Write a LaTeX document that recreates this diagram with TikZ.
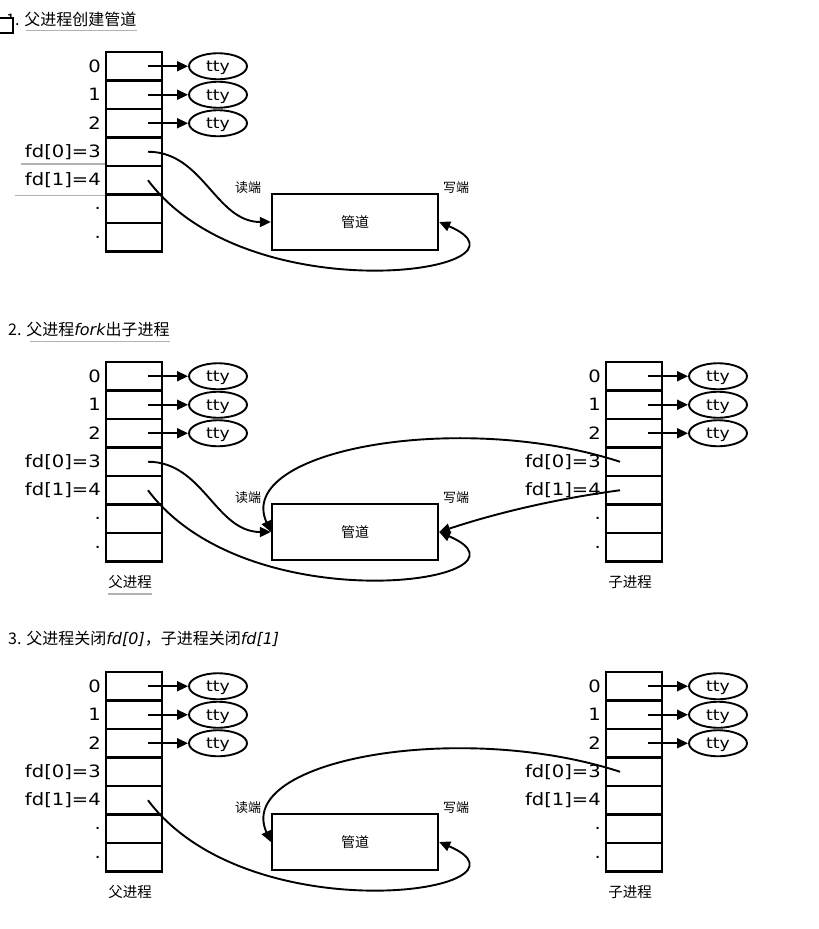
\documentclass[tikz,border=0pt]{standalone}
\usepackage{fontspec}
\setmainfont{DejaVu Sans}
\newfontfamily\cjk{Noto Sans CJK SC}
\newfontfamily\lblfont[FakeStretch=1.15]{DejaVu Sans}
\usetikzlibrary{arrows.meta,shapes.geometric}

\begin{document}
\begin{tikzpicture}[x=1pt,y=-1pt,
    cell/.style={draw,line width=2.3pt,minimum width=56pt,minimum height=28.5pt,inner sep=0pt},
    fdlabel/.style={anchor=east,inner sep=0pt,font=\lblfont\fontsize{17}{17}\selectfont},
    tty/.style={draw,ellipse,line width=1.9pt,minimum width=58pt,minimum height=26pt,inner sep=0pt,text depth=0pt,font=\lblfont\fontsize{15}{15}\selectfont},
    pipe/.style={draw,line width=2.3pt,minimum width=166pt,minimum height=56pt,font=\cjk\fontsize{14}{14}\selectfont},
    conn/.style={line width=1.9pt,-{Triangle[length=11pt,width=10pt]}},
    endlabel/.style={inner sep=0pt,font=\cjk\fontsize{13}{13}\selectfont},
    proclabel/.style={inner sep=0pt,font=\cjk\fontsize{14.5}{14.5}\selectfont},
    title/.style={anchor=west,inner sep=0pt,font=\cjk\fontsize{16}{16}\selectfont},
    uline/.style={gray!60,line width=1.4pt}]
    \useasboundingbox (0,0) rectangle (819,929);

    % 三个步骤的标题
    \node[title] (tA) at (6,19) {1. 父进程创建管道};
    \node[title] (tB) at (8,329) {2. 父进程{\rmfamily\itshape fork}出子进程};
    \node[title] (tC) at (8,639) {3. 父进程关闭{\rmfamily\itshape fd[0]}，子进程关闭{\rmfamily\itshape fd[1]}};
    \draw[line width=1.2pt,fill=white] (-1,18) rectangle (13,33);
    \draw[uline] ([xshift=20pt,yshift=-4pt]tA.south west) -- ([yshift=-4pt]tA.south east);
    \draw[uline] ([xshift=22pt,yshift=-5pt]tB.south west) -- ([yshift=-5pt]tB.south east);

    % 文件描述符表
    \foreach \pre/\cx/\top in {a/134/52, b/134/362, c/634/362, d/134/672, e/634/672} {
        \foreach \i/\l in {0/0,1/1,2/2,3/{fd[0]=3},4/{fd[1]=4},5/.,6/.} {
            \node[cell] (\pre\i) at (\cx,\top+14.25+28.5*\i) {};
            \node[fdlabel] (\pre l\i) at (\cx-33,\top+14.25+28.5*\i) {\l};
        }
        \foreach \i in {0,1,2} {
            \node[tty] (\pre t\i) at (\cx+84,\top+14.25+28.5*\i) {tty};
            \draw[conn] ([xshift=14pt]\pre\i.center) -- (\pre t\i);
        }
    }
    \draw[uline] ([xshift=-84pt,yshift=3pt]a3.south west) -- ([yshift=3pt]a3.south west);
    \draw[uline] ([xshift=-90pt]a4.south west) -- (a4.south west);

    % 管道
    \foreach \pre/\y in {A/0, B/310, C/620} {
        \node[pipe] (pipe\pre) at (355,222+\y) {管道};
        \node[endlabel] (r\pre) at (248,188+\y) {读端};
        \node[endlabel] (w\pre) at (456,188+\y) {写端};
    }

    % 1. 父进程创建管道
    \draw[conn] ([xshift=14pt]a3.center) to[out=0,in=180] (pipeA.west);
    \draw[conn] ([xshift=14pt]a4.center) .. controls +(102,136) and +(112,48) .. (pipeA.east);

    % 2. fork 之后
    \draw[conn] ([xshift=14pt]b3.center) to[out=0,in=180] (pipeB.west);
    \draw[conn] ([xshift=14pt]b4.center) .. controls +(102,136) and +(112,48) .. (pipeB.east);
    \draw[conn] ([xshift=-14pt]c3.center) .. controls +(-160,-52) and +(-37,-82) .. (pipeB.west);
    \draw[conn] ([xshift=-14pt]c4.center) .. controls +(-60,8) and +(60,-20) .. (pipeB.east);
    \node[proclabel] (pB) at (130,582) {父进程};
    \node[proclabel] (cB) at (630,582) {子进程};
    \draw[uline] ([yshift=-5pt]pB.south west) -- ([yshift=-5pt]pB.south east);

    % 3. 关闭不用的一端
    \draw[conn] ([xshift=14pt]d4.center) .. controls +(102,136) and +(112,48) .. (pipeC.east);
    \draw[conn] ([xshift=-14pt]e3.center) .. controls +(-160,-52) and +(-37,-82) .. (pipeC.west);
    \node[proclabel] (pC) at (130,892) {父进程};
    \node[proclabel] (cC) at (630,892) {子进程};
\end{tikzpicture}
\end{document}
